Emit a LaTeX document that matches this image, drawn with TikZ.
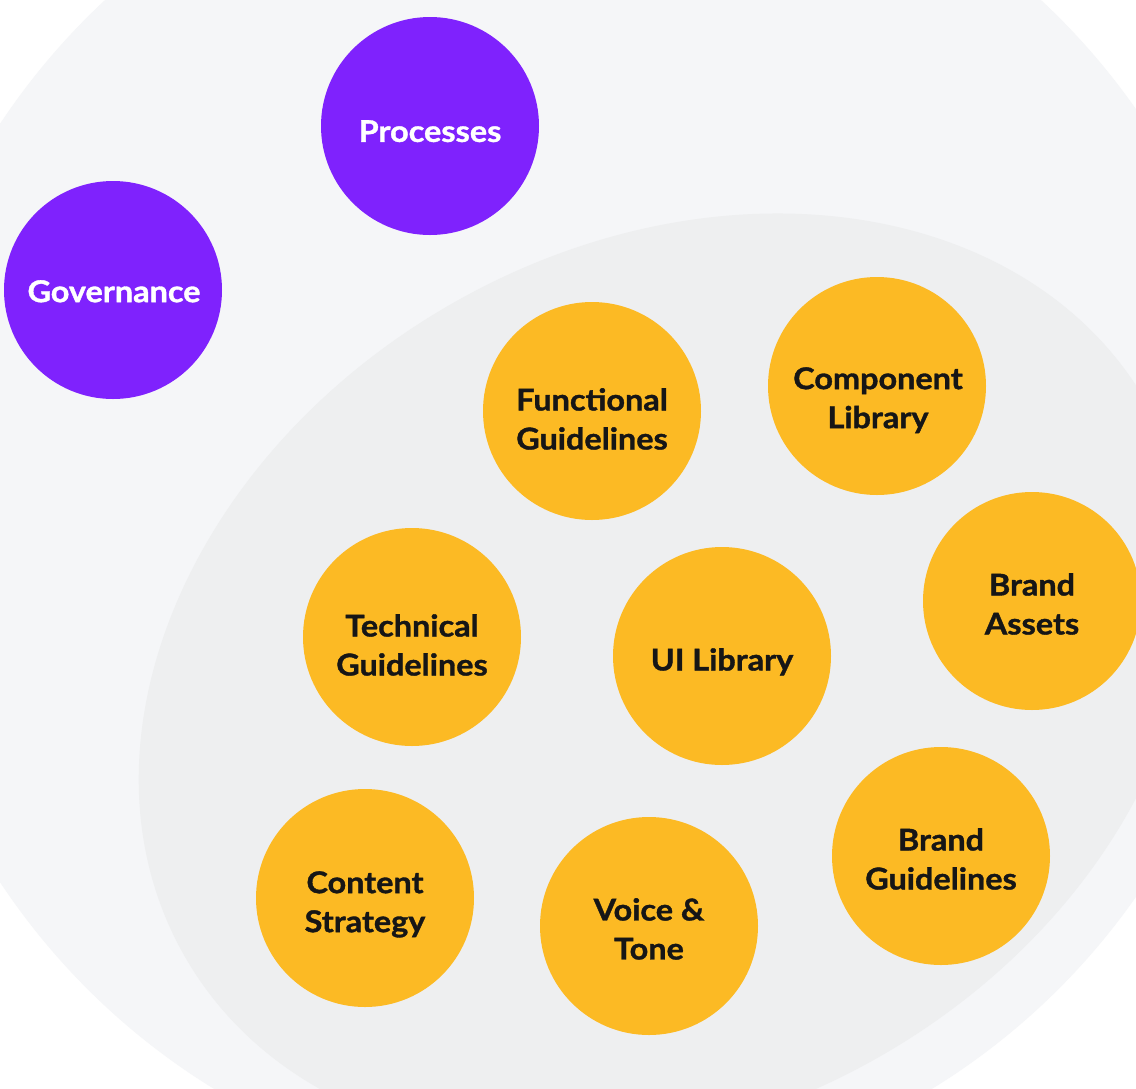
\documentclass[tikz,border=0pt]{standalone}
\usepackage{fontspec}
\setmainfont{Lato}[FakeStretch=1.08, BoldFeatures={FakeBold=1.2}]
\definecolor{gouter}{HTML}{F5F6F8}
\definecolor{ginner}{HTML}{EEEFF0}
\definecolor{gpurple}{HTML}{7F22FD}
\definecolor{gyellow}{HTML}{FCBA24}
\definecolor{gtext}{HTML}{161616}
\begin{document}
\begin{tikzpicture}[x=1pt,y=-1pt,
  bub/.style={circle, minimum size=218pt, inner sep=0pt},
  pbub/.style={bub, fill=gpurple},
  ybub/.style={bub, fill=gyellow},
  lbl/.style={anchor=north, inner sep=0pt, align=center, font=\fontsize{30}{39}\selectfont\bfseries},
  plbl/.style={lbl, text=white},
  ylbl/.style={lbl, text=gtext}]
\useasboundingbox (0,0) rectangle (1136,1088);
\fill[white] (0,0) rectangle (1136,1088);
\clip (0,0) rectangle (1136,1088);
\fill[gouter] (573,503) circle [radius=687];
\fill[ginner, rotate around={30:(666,680)}] (666,680) ellipse [x radius=555, y radius=433];
% bubbles
\node[pbub] (proc) at (430,126) {};
\node[pbub] (gov) at (113,290) {};
\node[ybub] (func) at (592,411) {};
\node[ybub] (comp) at (877,386) {};
\node[ybub] (bassets) at (1032,601) {};
\node[ybub] (tech) at (412,637) {};
\node[ybub] (uilib) at (722,656) {};
\node[ybub] (content) at (365,898) {};
\node[ybub] (voice) at (649,926) {};
\node[ybub] (bguide) at (941,856) {};
% labels
\node[plbl] (proc-t) at (430,120) {Processes};
\node[plbl] (gov-t) at (114,280) {Governance};
\node[ylbl] (func-t) at (592,388) {Functional\\Guidelines};
\node[ylbl] (comp-t) at (878,367) {Component\\Library};
\node[ylbl] (bassets-t) at (1032,573) {Brand\\Assets};
\node[ylbl] (tech-t) at (412,614) {Technical\\Guidelines};
\node[ylbl] (uilib-t) at (722,648) {UI Library};
\node[ylbl] (content-t) at (365,871) {Content\\Strategy};
\node[ylbl] (voice-t) at (649,898) {Voice \&\\Tone};
\node[ylbl] (bguide-t) at (941,828) {Brand\\Guidelines};
\end{tikzpicture}
\end{document}
